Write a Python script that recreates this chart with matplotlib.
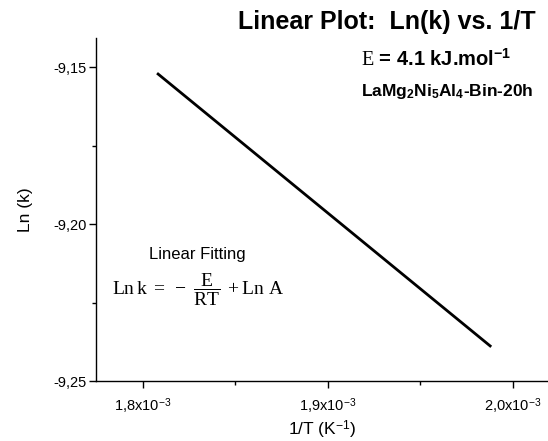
import matplotlib
matplotlib.use("Agg")
import matplotlib.pyplot as plt
from matplotlib.ticker import FixedLocator, MultipleLocator

# ===================== 字体设置 =====================
plt.rcParams['font.family'] = ['Liberation Sans', 'DejaVu Sans']
plt.rcParams['mathtext.fontset'] = 'custom'
plt.rcParams['mathtext.rm'] = 'Liberation Serif'
plt.rcParams['mathtext.it'] = 'Liberation Serif:italic'
plt.rcParams['mathtext.bf'] = 'Liberation Sans:bold'
plt.rcParams['mathtext.sf'] = 'Liberation Sans'

# ===================== 数据 =====================
inv_T = [1.8076e-3, 1.9883e-3]      # 1/T (K^-1)
ln_k = [-9.1519, -9.2391]           # Ln(k)

x_ticks = [1.8e-3, 1.9e-3, 2.0e-3]
x_tick_labels = ["1,8x10$^\\mathsf{-3}$", "1,9x10$^\\mathsf{-3}$", "2,0x10$^\\mathsf{-3}$"]
y_ticks = [-9.25, -9.20, -9.15]
y_tick_labels = ["-9,25", "-9,20", "-9,15"]

# ===================== 绘图 =====================
fig = plt.figure(figsize=(5.48, 4.41), dpi=100)
ax = fig.add_axes([0.1752, 0.136, 0.8248, 0.7778])

ax.plot(inv_T, ln_k, color="black", linewidth=2.0, solid_capstyle="butt")

ax.set_xlim(1.7746e-3, 2.019e-3)
ax.set_ylim(-9.25, -9.1407)

ax.xaxis.set_major_locator(FixedLocator(x_ticks))
ax.set_xticklabels(x_tick_labels)
ax.xaxis.set_minor_locator(MultipleLocator(0.5e-4))
ax.yaxis.set_major_locator(FixedLocator(y_ticks))
ax.set_yticklabels(y_tick_labels)
ax.yaxis.set_minor_locator(MultipleLocator(0.025))

for side in ["top", "right"]:
    ax.spines[side].set_visible(False)
for side in ["left", "bottom"]:
    ax.spines[side].set_linewidth(1.0)

ax.tick_params(which="major", direction="out", length=5, width=1.0, labelsize=10.5)
ax.tick_params(which="minor", direction="out", length=3, width=1.0)
ax.tick_params(axis="x", which="major", pad=6)
ax.tick_params(axis="y", which="major", pad=2)

ax.set_xlabel("1/T (K$^\\mathsf{-1}$)", fontsize=12.5, labelpad=2)
ax.set_ylabel("Ln (k)", fontsize=12.5, labelpad=14)

# 标题与注释
fig.text(0.978, 0.950, "Linear Plot:  Ln(k) vs. 1/T", ha="right", va="center",
         fontsize=18, fontweight="bold")
fig.text(0.659, 0.866, "$\\mathrm{E}$ = 4.1 kJ.mol$^\\mathbf{-1}$", ha="left", va="center",
         fontsize=14.5, fontweight="bold")
fig.text(0.659, 0.792, "LaMg$_\\mathbf{2}$Ni$_\\mathbf{5}$Al$_\\mathbf{4}$-Bin-20h",
         ha="left", va="center", fontsize=12.5, fontweight="bold")

ax.text(0.360, 0.424, "Linear Fitting", transform=fig.transFigure,
        ha="center", va="center", fontsize=12)
ax.text(0.362, 0.342,
        r"$\mathrm{Ln\,k}\ =\ -\ \dfrac{\mathrm{E}}{\mathrm{RT}}\ +\mathrm{Ln\ A}$",
        transform=fig.transFigure, ha="center", va="center", fontsize=14)

fig.savefig("out.png", dpi=100)
plt.close(fig)
